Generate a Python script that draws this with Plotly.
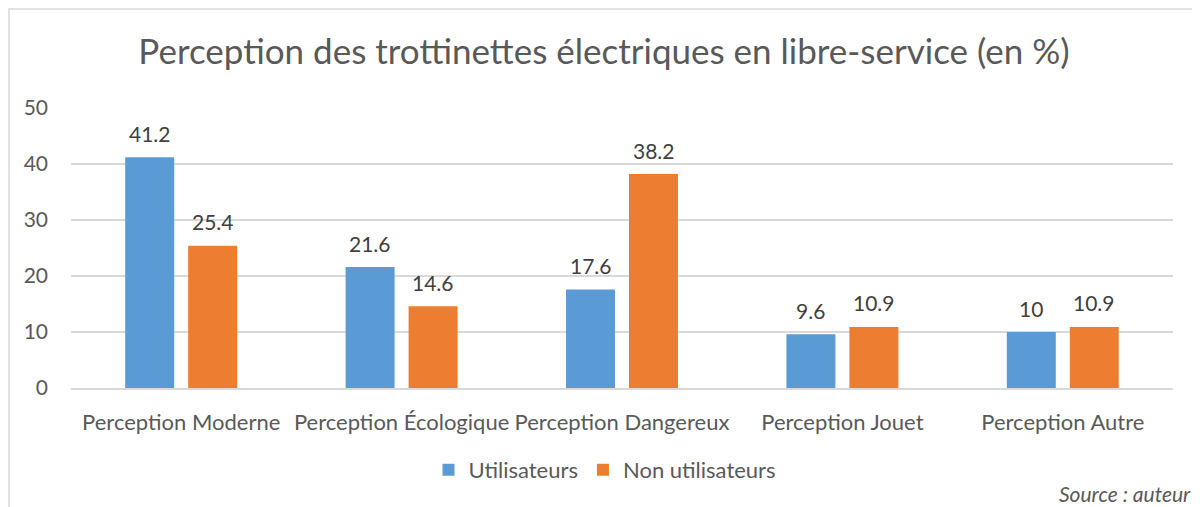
import plotly.graph_objects as go

categories = ["Perception Moderne", "Perception Écologique", "Perception Dangereux", "Perception Jouet", "Perception Autre"]
utilisateurs = [41.2, 21.6, 17.6, 9.6, 10]
non_utilisateurs = [25.4, 14.6, 38.2, 10.9, 10.9]
y_ticks = [0, 10, 20, 30, 40, 50]

FONT = "Lato, Open Sans, sans-serif"
TXT = "#595959"
LBL = "#404040"

# page has an 8px body margin: size the figure to fit the 1200x507 window
W, H = 1192, 499
L, R, T, B = 63, 27, 100, 119
pw = W - L - R
ph = H - T - B

BW = 0.2223      # bar width (category units)
PITCH = 0.2858   # distance between bar centres in a group
OFF_U = -PITCH / 2 - BW / 2
OFF_N = PITCH / 2 - BW / 2

xi = list(range(len(categories)))

fig = go.Figure()
fig.add_trace(go.Bar(name="Utilisateurs", x=xi, y=utilisateurs, width=BW, offset=OFF_U,
                     marker=dict(color="#5B9BD5", line_width=0)))
fig.add_trace(go.Bar(name="Non utilisateurs", x=xi, y=non_utilisateurs, width=BW, offset=OFF_N,
                     marker=dict(color="#ED7D31", line_width=0)))

annotations = []
for i, v in enumerate(utilisateurs):
    annotations.append(dict(x=i - PITCH / 2, y=v, xref="x", yref="y", text=f"{v:g}", showarrow=False,
                            yanchor="middle", yshift=24, font=dict(size=21, color=LBL, family=FONT)))
for i, v in enumerate(non_utilisateurs):
    annotations.append(dict(x=i + PITCH / 2, y=v, xref="x", yref="y", text=f"{v:g}", showarrow=False,
                            yanchor="middle", yshift=24, font=dict(size=21, color=LBL, family=FONT)))
annotations.append(dict(text="Source : auteur", xref="paper", yref="paper",
                        x=(1185 - L) / pw, xanchor="right", y=(380 - 485) / ph, yanchor="middle",
                        showarrow=False, font=dict(size=21, color=TXT, family=FONT, style="italic")))

fig.update_layout(
    width=W, height=H,
    margin=dict(l=L, r=R, t=T, b=B, autoexpand=False),
    paper_bgcolor="white", plot_bgcolor="white",
    font=dict(family=FONT, color=TXT, size=21),
    title=dict(text="Perception des trottinettes électriques en libre-service (en %)",
               x=0.5, xanchor="center", y=1 - 44 / H, yanchor="middle",
               font=dict(size=35, color=TXT, family=FONT)),
    showlegend=True,
    legend=dict(orientation="h", x=0.5 - 17 / pw, xanchor="center", y=(380 - 462) / ph, yanchor="middle",
                font=dict(size=22, color=TXT), itemwidth=30, traceorder="normal"),
    xaxis=dict(range=[-0.5, len(categories) - 0.5], tickvals=xi, ticktext=categories,
               showgrid=False, showline=True, linecolor="#d9d9d9", linewidth=1.5, zeroline=False,
               tickfont=dict(size=22, color=TXT), ticks="", ticklabelstandoff=14),
    yaxis=dict(range=[0, 50], tickvals=y_ticks, showgrid=True, gridcolor="#d9d9d9", gridwidth=1.5,
               zeroline=False, showline=False, tickfont=dict(size=21, color=TXT),
               ticklabelstandoff=22),
    shapes=[dict(type="rect", xref="paper", yref="paper",
                 x0=(1 - L) / pw, x1=1.2, y0=-0.6, y1=(380 - 1) / ph,
                 line=dict(color="#d9d9d9", width=1.5), fillcolor="rgba(0,0,0,0)", layer="below")],
    annotations=annotations,
)

fig.write_html("out.html")
